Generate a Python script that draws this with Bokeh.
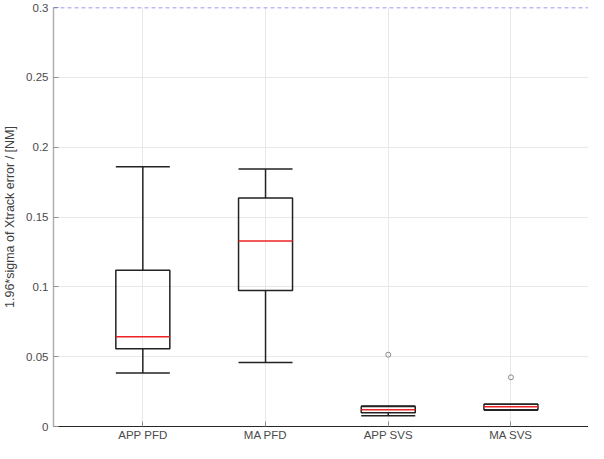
from bokeh.plotting import figure
from bokeh.models import Range1d, FixedTicker, Span, ColumnDataSource
from bokeh.embed import file_html
from bokeh.resources import INLINE

categories = ["APP PFD", "MA PFD", "APP SVS", "MA SVS"]
upper_whisker = [0.186, 0.1843, 0.0146, 0.0160]
q3 = [0.1118, 0.1636, 0.0143, 0.0159]
median = [0.0643, 0.1329, 0.0120, 0.0141]
q1 = [0.0556, 0.0974, 0.0098, 0.0120]
lower_whisker = [0.0383, 0.0458, 0.0077, 0.0117]
outlier_cat = ["APP SVS", "MA SVS"]
outlier_val = [0.0514, 0.0352]
y_ticks = [0, 0.05, 0.1, 0.15, 0.2, 0.25, 0.3]
y_tick_labels = ["0", "0.05", "0.1", "0.15", "0.2", "0.25", "0.3"]
threshold = 0.3

pos = [i + 1 for i in range(len(categories))]
hw = 0.22
src = ColumnDataSource(dict(
    x=pos,
    left=[p - hw for p in pos],
    right=[p + hw for p in pos],
    uw=upper_whisker, q3=q3, med=median, q1=q1, lw=lower_whisker,
))
osrc = ColumnDataSource(dict(
    x=[categories.index(c) + 1 for c in outlier_cat],
    y=outlier_val,
))

p = figure(width=588, height=443, output_backend="svg", toolbar_location=None,
           x_range=Range1d(0.272, 4.632), y_range=Range1d(0, 0.3),
           min_border_left=44, min_border_right=0, min_border_top=7, min_border_bottom=17)
p.outline_line_color = None
p.background_fill_color = "white"
p.border_fill_color = "white"

font = "Liberation Sans"
for ax in (p.xaxis[0], p.yaxis[0]):
    ax.major_label_text_font = font
    ax.major_label_text_font_size = "11.5px"
    ax.major_label_text_color = "#4a4a4a"
    ax.major_tick_in = 5
    ax.major_tick_out = 0
    ax.minor_tick_in = 0
    ax.minor_tick_out = 0
    ax.major_tick_line_color = "#909090"

p.xaxis.ticker = FixedTicker(ticks=pos)
p.xaxis.major_label_overrides = {pp: c for pp, c in zip(pos, categories)}
p.xaxis.axis_line_color = "#262626"
p.xaxis.axis_line_width = 1.2
p.xaxis.major_label_standoff = 2

p.yaxis.ticker = FixedTicker(ticks=y_ticks)
p.yaxis.major_label_overrides = {t: l for t, l in zip(y_ticks, y_tick_labels)}
p.yaxis.axis_line_color = "#b0b0b0"
p.yaxis.axis_line_width = 1.5
p.yaxis.axis_label = "1.96*sigma of Xtrack error / [NM]"
p.yaxis.axis_label_text_font = font
p.yaxis.axis_label_text_font_size = "12.5px"
p.yaxis.axis_label_text_font_style = "normal"
p.yaxis.axis_label_text_color = "#404040"
p.yaxis.axis_label_standoff = 6
p.yaxis.major_label_standoff = 5

p.xgrid.grid_line_color = "#e8e8e8"
p.ygrid.grid_line_color = "#e8e8e8"

p.add_layout(Span(location=threshold, dimension="width", line_color="#7878ee",
                  line_dash="4 3", line_width=1.5))

# whiskers
p.segment(x0="x", y0="q3", x1="x", y1="uw", source=src, line_color="#222222", line_width=1.5)
p.segment(x0="x", y0="q1", x1="x", y1="lw", source=src, line_color="#222222", line_width=1.5)
p.segment(x0="left", y0="uw", x1="right", y1="uw", source=src, line_color="#222222", line_width=1.5)
p.segment(x0="left", y0="lw", x1="right", y1="lw", source=src, line_color="#222222", line_width=1.5)
# boxes
p.quad(left="left", right="right", top="q3", bottom="q1", source=src,
       fill_color=None, line_color="#222222", line_width=1.5)
# medians
p.segment(x0="left", y0="med", x1="right", y1="med", source=src, line_color="#ee2222", line_width=1.5)
# outliers
p.scatter(x="x", y="y", source=osrc, size=5, fill_color=None, line_color="#888888", line_width=1)

open("out.html", "w").write(file_html(p, INLINE))
